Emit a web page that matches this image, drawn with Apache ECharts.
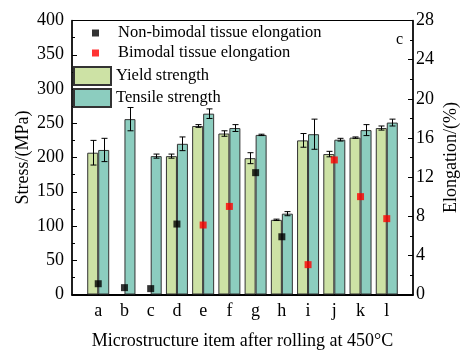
<!DOCTYPE html>
<html>
<head>
<meta charset="utf-8">
<script src="https://cdn.jsdelivr.net/npm/echarts@6/dist/echarts.min.js"></script>
<style>html,body{margin:0;padding:0;background:#fff}#c{width:460px;height:354px}</style>
</head>
<body>
<div id="c"></div>
<script>
const categories = ['a','b','c','d','e','f','g','h','i','j','k','l'];
const yieldStrength = [207, null, null, 202, 246, 235, 199, 109, 225, 205, 229, 243];
const yieldErr = [18, null, null, 3, 2, 4, 8, 1, 10, 4, 1, 3];
const tensileStrength = [211, 256, 202, 220, 264, 243, 233, 118, 234, 226, 240, 251];
const tensileErr = [17, 17, 3, 10, 7, 5, 1, 3, 22, 2, 8, 5];
const nonBimodal = [1.1, 0.7, 0.6, 7.2, null, null, 12.45, 5.9, null, null, null, null];
const bimodal = [null, null, null, null, 7.1, 9.0, null, null, 3.05, 13.75, 10.0, 7.75];
const stressTicks = {min: 0, max: 400, interval: 50};
const elongTicks = {min: 0, max: 28, interval: 4};

const FONT = 'Liberation Serif';
const axisCats = [''].concat(categories, ['']);
const pad = arr => ['-'].concat(arr.map(v => v == null ? '-' : v), ['-']);
const errData = (vals, errs) => vals.map((v, i) => v == null ? null : [i + 1, v, errs[i]]).filter(d => d);

function errRenderer(offset) {
  return function (params, api) {
    const x = api.value(0), v = api.value(1), e = api.value(2);
    const t = api.coord([x, v + e]);
    const b = api.coord([x, v - e]);
    const cx = Math.round(t[0] + offset) + 0.5;
    const hw = 3;
    const st = {stroke: '#000', lineWidth: 1};
    return {type: 'group', children: [
      {type: 'line', shape: {x1: cx, y1: t[1], x2: cx, y2: b[1]}, style: st},
      {type: 'line', shape: {x1: cx - hw, y1: t[1], x2: cx + hw, y2: t[1]}, style: st},
      {type: 'line', shape: {x1: cx - hw, y1: b[1], x2: cx + hw, y2: b[1]}, style: st}
    ]};
  };
}

const chart = echarts.init(document.getElementById('c'));
const sq = 'path://M0,0H1V1H0Z';
chart.setOption({
  animation: false,
  textStyle: {fontFamily: FONT},
  grid: {left: 72, right: 47, top: 20.5, bottom: 59.5, show: true, borderColor: '#000', borderWidth: 1,
         backgroundColor: 'transparent', containLabel: false, outerBoundsMode: 'none'},
  legend: [{
    orient: 'vertical', left: 92, top: 24, padding: 0, itemWidth: 7, itemHeight: 7, itemGap: 2,
    textStyle: {fontFamily: FONT, fontSize: 16.5, color: '#000', lineHeight: 18, padding: [0, 0, 0, 14]},
    data: [{name: 'Non-bimodal tissue elongation', icon: sq}, {name: 'Bimodal tissue elongation', icon: sq}]
  }, {
    orient: 'vertical', left: 73, top: 66, padding: 0, itemWidth: 37, itemHeight: 18, itemGap: 2,
    textStyle: {fontFamily: FONT, fontSize: 16.5, color: '#000'},
    data: [{name: 'Yield strength', icon: 'rect'}, {name: 'Tensile strength', icon: 'rect'}]
  }],
  xAxis: {
    type: 'category', data: axisCats, boundaryGap: false,
    axisLine: {lineStyle: {color: '#000', width: 2}},
    axisTick: {show: false},
    axisLabel: {fontFamily: FONT, fontSize: 18, color: '#000', margin: 8, interval: 0},
    splitLine: {show: false},
    name: 'Microstructure item after rolling at 450°C', nameLocation: 'middle', nameGap: 38, nameMoveOverlap: false,
    nameTextStyle: {fontFamily: FONT, fontSize: 18, color: '#000'}
  },
  yAxis: [{
    type: 'value', min: stressTicks.min, max: stressTicks.max, interval: stressTicks.interval,
    axisLine: {show: true, lineStyle: {color: '#000', width: 1.5}},
    axisTick: {show: true, inside: true, length: 5, lineStyle: {color: '#000'}},
    minorTick: {show: true, splitNumber: 2, length: 3, lineStyle: {color: '#000'}},
    axisLabel: {fontFamily: FONT, fontSize: 18, color: '#000', margin: 8},
    splitLine: {show: false},
    name: 'Stress/(MPa)', nameLocation: 'middle', nameGap: 40, nameMoveOverlap: false,
    nameTextStyle: {fontFamily: FONT, fontSize: 18, color: '#000'}
  }, {
    type: 'value', min: elongTicks.min, max: elongTicks.max, interval: elongTicks.interval, position: 'right',
    axisLine: {show: true, lineStyle: {color: '#000', width: 1.5}},
    axisTick: {show: true, inside: true, length: 5, lineStyle: {color: '#000'}},
    minorTick: {show: true, splitNumber: 2, length: 3, lineStyle: {color: '#000'}},
    axisLabel: {fontFamily: FONT, fontSize: 18, color: '#000', margin: 3},
    splitLine: {show: false},
    name: 'Elongation/(%)', nameLocation: 'middle', nameGap: 29, nameMoveOverlap: false,
    nameTextStyle: {fontFamily: FONT, fontSize: 18, color: '#000'}
  }],
  series: [{
    name: 'Yield strength', type: 'bar', data: pad(yieldStrength), barWidth: 11, barGap: '0%',
    itemStyle: {color: '#cde2a5', borderColor: '#333', borderWidth: 1}
  }, {
    name: 'Tensile strength', type: 'bar', data: pad(tensileStrength), barWidth: 11, barGap: '0%',
    itemStyle: {color: '#8ccdbf', borderColor: '#333', borderWidth: 1}
  }, {
    type: 'custom', renderItem: errRenderer(-5.5), data: errData(yieldStrength, yieldErr), z: 5,
    encode: {x: 0, y: 1}, silent: true
  }, {
    type: 'custom', renderItem: errRenderer(5.5), data: errData(tensileStrength, tensileErr), z: 5,
    encode: {x: 0, y: 1}, silent: true
  }, {
    name: 'Non-bimodal tissue elongation', type: 'scatter', yAxisIndex: 1, symbol: 'rect', symbolSize: 7,
    data: pad(nonBimodal), itemStyle: {color: '#000'}, z: 6
  }, {
    name: 'Bimodal tissue elongation', type: 'scatter', yAxisIndex: 1, symbol: 'rect', symbolSize: 7,
    data: pad(bimodal), itemStyle: {color: '#ff0000'}, z: 6
  }],
  graphic: [{type: 'text', left: 396, top: 32, z: 10, style: {text: 'c', font: '16px "Liberation Serif"', fill: '#000'}}]
});
</script>
</body>
</html>
